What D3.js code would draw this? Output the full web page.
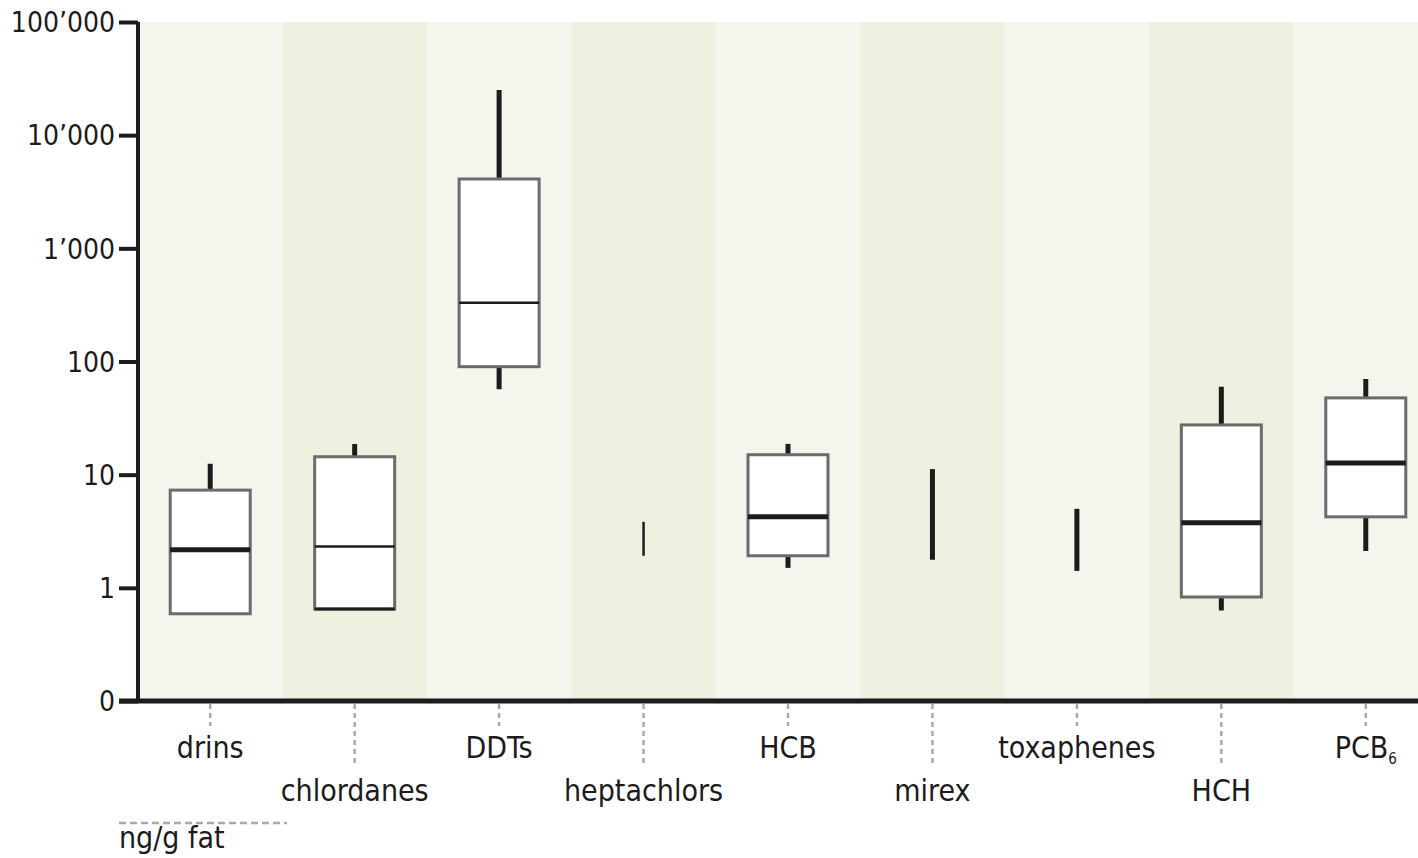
<!DOCTYPE html>
<html>
<head>
<meta charset="utf-8">
<script src="https://cdn.jsdelivr.net/npm/d3@7"></script>
<style>
  body { margin: 0; background: #fff; }
  text { font-family: "Liberation Sans Narrow", "DejaVu Sans Condensed", sans-serif; fill: #1d1b1c; }
</style>
</head>
<body>
<div id="chart"></div>
<script>
// data (ng/g fat)
const categories = ["drins", "chlordanes", "DDTs", "heptachlors", "HCB", "mirex", "toxaphenes", "HCH", "PCBs"];
const whiskerLow  = [0.59, 0.65, 57, 1.92, 1.5, 1.77, 1.41, 0.63, 2.12];
const q1          = [0.59, 0.65, 90, null, 1.92, null, null, 0.83, 4.24];
const median      = [2.17, 2.32, 330, null, 4.24, null, null, 3.75, 12.7];
const q3          = [7.3, 14.4, 4100, null, 15, null, null, 27.5, 47.7];
const whiskerHigh = [12.5, 18.7, 25100, 3.83, 18.7, 11.2, 4.99, 59.7, 70];
const tickValues = [0.1, 1, 10, 100, 1000, 10000, 100000];
const tickLabels = ["0", "1", "10", "100", "1’000", "10’000", "100’000"];
const unitLabel = "ng/g fat";

// styling
const thinMedian = new Set(["chlordanes", "DDTs"]);
const thinLine = new Set(["heptachlors"]);

const width = 1418, height = 858;
const plotLeft = 140, plotTop = 22, plotBottom = 701;

const svg = d3.select("#chart")
    .append("svg")
    .attr("width", width)
    .attr("height", height);

// scales
const x = d3.scaleBand()
    .domain(categories)
    .range([138, 1438])
    .padding(0);

const y = d3.scaleLog()
    .domain([0.1, 100000])
    .range([plotBottom, plotTop]);

const cx = d => x(d) + x.bandwidth() / 2;

// background bands
svg.append("g")
    .selectAll("rect")
    .data(categories)
    .join("rect")
    .attr("x", d => Math.max(plotLeft, x(d)))
    .attr("y", plotTop)
    .attr("width", d => x(d) + x.bandwidth() - Math.max(plotLeft, x(d)))
    .attr("height", plotBottom - plotTop)
    .attr("fill", (d, i) => i % 2 === 0 ? "#f4f5ed" : "#eff0e0");

// build rows
const rows = categories.map((c, i) => ({
    name: c, lo: whiskerLow[i], q1: q1[i], med: median[i], q3: q3[i], hi: whiskerHigh[i]
}));

const boxW = 80;
const g = svg.append("g");

// whiskers
g.selectAll("line.whisker")
    .data(rows)
    .join("line")
    .attr("class", "whisker")
    .attr("x1", d => cx(d.name))
    .attr("x2", d => cx(d.name))
    .attr("y1", d => y(d.lo))
    .attr("y2", d => y(d.hi))
    .attr("stroke", "#1d1b1c")
    .attr("stroke-width", d => thinLine.has(d.name) ? 2.5 : 5);

// boxes
const boxed = rows.filter(d => d.q1 !== null);
g.selectAll("rect.box")
    .data(boxed)
    .join("rect")
    .attr("class", "box")
    .attr("x", d => cx(d.name) - boxW / 2)
    .attr("y", d => y(d.q3))
    .attr("width", boxW)
    .attr("height", d => y(d.q1) - y(d.q3))
    .attr("fill", "#fff")
    .attr("stroke", "#6b6b6d")
    .attr("stroke-width", 3);

// chlordanes lower edge drawn in black
g.selectAll("line.low")
    .data(boxed.filter(d => d.name === "chlordanes"))
    .join("line")
    .attr("class", "low")
    .attr("x1", d => cx(d.name) - boxW / 2)
    .attr("x2", d => cx(d.name) + boxW / 2)
    .attr("y1", d => y(d.q1))
    .attr("y2", d => y(d.q1))
    .attr("stroke", "#1d1b1c")
    .attr("stroke-width", 3);

// medians
g.selectAll("line.median")
    .data(boxed)
    .join("line")
    .attr("class", "median")
    .attr("x1", d => cx(d.name) - boxW / 2)
    .attr("x2", d => cx(d.name) + boxW / 2)
    .attr("y1", d => y(d.med))
    .attr("y2", d => y(d.med))
    .attr("stroke", "#1d1b1c")
    .attr("stroke-width", d => thinMedian.has(d.name) ? 2.5 : 5);

// y axis
const yAxis = svg.append("g")
    .attr("transform", `translate(${plotLeft - 2},0)`)
    .call(d3.axisLeft(y)
        .tickValues(tickValues)
        .tickFormat((d, i) => tickLabels[i])
        .tickSize(19)
        .tickPadding(4));
yAxis.select(".domain").remove();
yAxis.selectAll(".tick line")
    .attr("stroke", "#1d1b1c")
    .attr("stroke-width", 4);
yAxis.selectAll(".tick text")
    .attr("font-size", 28)
    .attr("dy", "0.35em")
    .style("font-family", "\"Liberation Sans Narrow\", \"DejaVu Sans Condensed\", sans-serif");

svg.append("line")
    .attr("x1", plotLeft - 2).attr("x2", plotLeft - 2)
    .attr("y1", plotTop).attr("y2", plotBottom + 2)
    .attr("stroke", "#1d1b1c").attr("stroke-width", 4);

// x axis line
svg.append("line")
    .attr("x1", 119).attr("x2", width)
    .attr("y1", plotBottom).attr("y2", plotBottom)
    .attr("stroke", "#1d1b1c").attr("stroke-width", 5);

// category labels with dashed leaders
const lab = svg.append("g")
    .selectAll("g")
    .data(categories)
    .join("g")
    .attr("transform", d => `translate(${cx(d)},0)`);

lab.append("line")
    .attr("y1", plotBottom + 3)
    .attr("y2", (d, i) => i % 2 === 0 ? 726 : 766)
    .attr("stroke", "#a9a9a9")
    .attr("stroke-width", 2.5)
    .attr("stroke-dasharray", "5,4");

const labText = lab.append("text")
    .attr("text-anchor", "middle")
    .attr("y", (d, i) => i % 2 === 0 ? 758 : 801)
    .attr("font-size", 30);
labText.append("tspan").text(d => d === "PCBs" ? "PCB" : d);
labText.filter(d => d === "PCBs")
    .append("tspan")
    .attr("dy", 6)
    .attr("font-size", 15)
    .text("6");

// unit label
svg.append("line")
    .attr("x1", 119).attr("x2", 287)
    .attr("y1", 823).attr("y2", 823)
    .attr("stroke", "#a9a9a9")
    .attr("stroke-width", 2.5)
    .attr("stroke-dasharray", "7,4");
svg.append("text")
    .attr("x", 119)
    .attr("y", 848)
    .attr("font-size", 30)
    .text(unitLabel);
</script>
</body>
</html>
